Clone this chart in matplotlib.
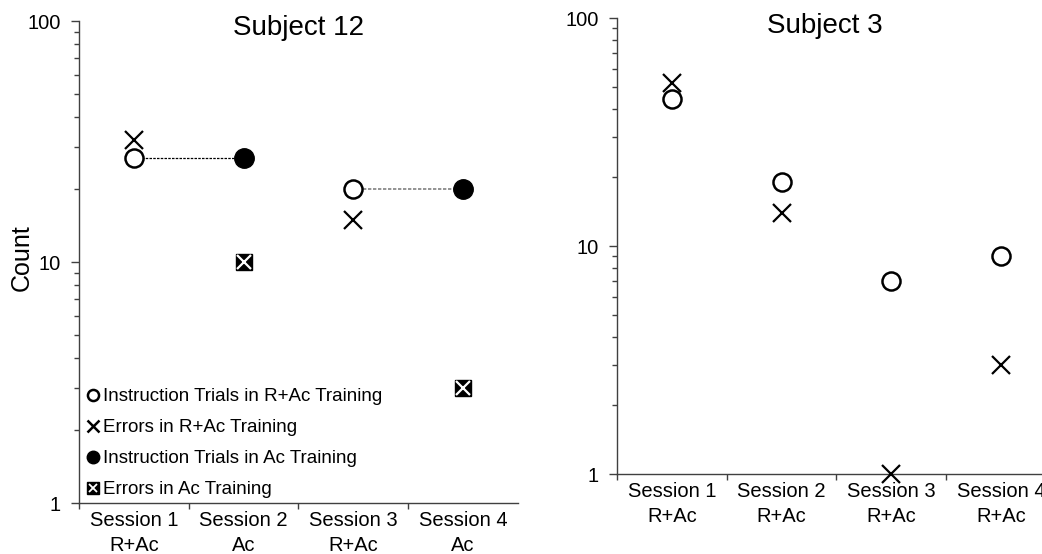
import matplotlib.pyplot as plt
from matplotlib.legend_handler import HandlerTuple

plt.rcParams['font.family'] = ['Liberation Sans', 'DejaVu Sans']

# sessions
sessions = [0, 1, 2, 3]
labels_s12 = ["Session 1\nR+Ac", "Session 2\nAc", "Session 3\nR+Ac", "Session 4\nAc"]
labels_s3 = ["Session 1\nR+Ac", "Session 2\nR+Ac", "Session 3\nR+Ac", "Session 4\nR+Ac"]

# Subject 12
s12_instr_rac_x = [0, 2]
s12_instr_rac = [27, 20]
s12_err_rac_x = [0, 2]
s12_err_rac = [32, 15]
s12_instr_ac_x = [1, 3]
s12_instr_ac = [27, 20]
s12_err_ac_x = [1, 3]
s12_err_ac = [10, 3]

# Subject 3
s3_instr_rac = [44, 19, 7, 9]
s3_err_rac = [52, 14, 1, 3]

fig = plt.figure(figsize=(10.42, 5.54), dpi=100)
ax1 = fig.add_axes([0.0758, 0.092, 0.4213, 0.870])
ax2 = fig.add_axes([0.5921, 0.1444, 0.4213, 0.8231])

def style_axis(ax, ticklabels):
    ax.set_yscale('log')
    ax.set_ylim(1, 100)
    ax.set_xlim(-0.5, 3.5)
    for s in ['top', 'right']:
        ax.spines[s].set_visible(False)
    for s in ['left', 'bottom']:
        ax.spines[s].set_color('#404040')
        ax.spines[s].set_linewidth(1.0)
    ax.set_yticks([1, 10, 100])
    ax.set_yticklabels(['1', '10', '100'])
    ax.tick_params(axis='y', which='major', length=6, width=1, color='#404040',
                   labelsize=14.5, pad=7)
    ax.tick_params(axis='y', which='minor', length=3.5, width=1, color='#404040')
    ax.set_xticks([-0.5, 0.5, 1.5, 2.5])
    ax.set_xticklabels([])
    ax.set_xticks(sessions, minor=True)
    ax.set_xticklabels(ticklabels, minor=True, fontsize=14.5, linespacing=1.35)
    ax.tick_params(axis='x', which='major', length=4, width=1, color='#404040')
    ax.tick_params(axis='x', which='minor', length=0, pad=6)

style_axis(ax1, labels_s12)
style_axis(ax2, labels_s3)

ms = 13
# dotted links between R+Ac and following Ac sessions
ax1.plot([0, 1], [s12_instr_rac[0], s12_instr_ac[0]], linestyle=(0, (2, 1)),
         color='black', linewidth=0.9, zorder=1)
ax1.plot([2, 3], [s12_instr_rac[1], s12_instr_ac[1]], linestyle=(0, (2, 1)),
         color='#808080', linewidth=1.2, zorder=1)

h1, = ax1.plot(s12_instr_rac_x, s12_instr_rac, 'o', mfc='white', mec='black',
               mew=1.8, ms=ms, linestyle='none', zorder=3)
h2, = ax1.plot(s12_err_rac_x, s12_err_rac, 'x', color='black', mew=1.6,
               ms=ms, linestyle='none', zorder=3)
h3, = ax1.plot(s12_instr_ac_x, s12_instr_ac, 'o', color='black', ms=ms + 1,
               linestyle='none', zorder=3)
h4a, = ax1.plot(s12_err_ac_x, s12_err_ac, 's', color='black', ms=ms - 1,
                linestyle='none', zorder=3)
h4b, = ax1.plot(s12_err_ac_x, s12_err_ac, 'x', color='white', mew=1.6,
                ms=ms - 3, linestyle='none', zorder=4)

ax2.plot(sessions, s3_instr_rac, 'o', mfc='white', mec='black', mew=1.8,
         ms=ms, linestyle='none', zorder=3)
ax2.plot(sessions, s3_err_rac, 'x', color='black', mew=1.6, ms=ms,
         linestyle='none', zorder=3, clip_on=False)

# legend with smaller markers
l1, = ax1.plot([], [], 'o', mfc='white', mec='black', mew=1.8, ms=8)
l2, = ax1.plot([], [], 'x', color='black', mew=1.8, ms=8)
l3, = ax1.plot([], [], 'o', color='black', ms=9)
l4a, = ax1.plot([], [], 's', color='black', ms=8)
l4b, = ax1.plot([], [], 'x', color='white', mew=1.3, ms=6)
ax1.legend([l1, l2, l3, (l4a, l4b)],
           ["Instruction Trials in R+Ac Training", "Errors in R+Ac Training",
            "Instruction Trials in Ac Training", "Errors in Ac Training"],
           handler_map={tuple: HandlerTuple(ndivide=1, pad=0)},
           loc='lower left', bbox_to_anchor=(-0.005, -0.01), frameon=False,
           fontsize=13.5, handlelength=0.7, handletextpad=0.2,
           labelspacing=0.74, borderaxespad=0.1)

ax1.text(0.5, 1.012, "Subject 12", transform=ax1.transAxes, ha='center',
         va='top', fontsize=20)
ax2.text(0.473, 1.01, "Subject 3", transform=ax2.transAxes, ha='center',
         va='top', fontsize=20)
fig.text(22 / 1042, 1 - 258 / 554, "Count", rotation=90, ha='center',
         va='center', fontsize=18)

fig.savefig("out.png", dpi=100)
